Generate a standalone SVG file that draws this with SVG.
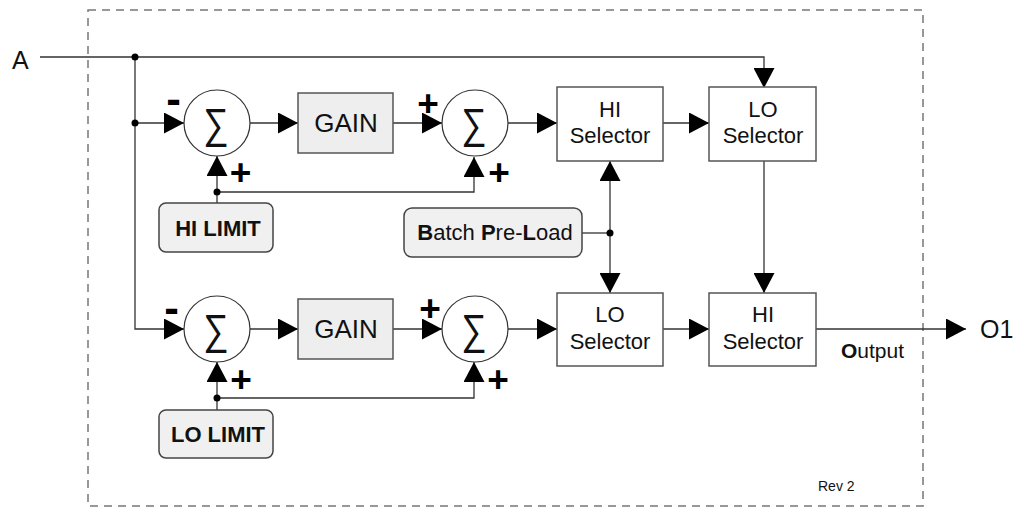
<svg xmlns="http://www.w3.org/2000/svg" width="1014" height="507" viewBox="0 0 1014 507">
<defs>
<marker id="ah" viewBox="0 0 20 21" refX="20" refY="10.5" markerWidth="20" markerHeight="21" markerUnits="userSpaceOnUse" orient="auto"><path d="M0,0 L20,10.5 L0,21 z" fill="#000"/></marker>
</defs>
<style>
.t{font-family:"Liberation Sans",Arial,sans-serif;fill:#111}
.m{text-anchor:middle}
.b{font-weight:bold}
.box{fill:#fff;stroke:#555;stroke-width:1.5}
.gbox{fill:#eeeeee;stroke:#555;stroke-width:1.5}
.lim{fill:#f0f0f0;stroke:#444;stroke-width:1.5}
.sum{fill:#fff;stroke:#333;stroke-width:1.2}
.c{fill:none;stroke:#333;stroke-width:1.3}
.a{marker-end:url(#ah)}
.dot{fill:#000}
.sg{font-family:"Liberation Sans",Arial,sans-serif;font-size:42px;text-anchor:middle;fill:#111}
.pm{font-family:"Liberation Sans",Arial,sans-serif;font-weight:bold;text-anchor:middle;fill:#000}
</style>
<rect x="88" y="10" width="835" height="496" fill="none" stroke="#777" stroke-width="1.5" stroke-dasharray="8 6"/>

<g id="connectors">
<path class="c a" d="M40,57 H764 V88"/>
<path class="c a" d="M135,57 V329 H184"/>
<path class="c a" d="M135,123 H184"/>
<path class="c a" d="M250,123 H298"/>
<path class="c a" d="M393,123 H442"/>
<path class="c a" d="M508,123 H557"/>
<path class="c a" d="M663,123 H709"/>
<path class="c a" d="M217,203 V156"/>
<path class="c a" d="M217,192 H474 V157"/>
<path class="c" d="M582,233 H610"/>
<path class="c a" d="M610,233 V161"/>
<path class="c a" d="M610,233 V293"/>
<path class="c a" d="M764,161 V293"/>
<path class="c a" d="M250,329 H298"/>
<path class="c a" d="M393,329 H442"/>
<path class="c a" d="M508,329 H557"/>
<path class="c a" d="M663,329 H709"/>
<path class="c a" d="M816,329 H966"/>
<path class="c a" d="M217,410 V362"/>
<path class="c a" d="M217,398 H474 V362"/>
<circle class="dot" cx="135" cy="57" r="3.5"/>
<circle class="dot" cx="135" cy="123" r="3.5"/>
<circle class="dot" cx="217" cy="192" r="3.5"/>
<circle class="dot" cx="610" cy="233" r="3.5"/>
<circle class="dot" cx="217" cy="398" r="3.5"/>
</g>

<g id="inA"><text class="t" x="12" y="69" font-size="25">A</text></g>
<g id="sum1"><circle class="sum" cx="217" cy="123" r="33"/><text class="sg" transform="translate(216,138) scale(0.85,1)">∑</text>
<text class="pm" x="173.5" y="113.5" font-size="44">-</text><text class="pm" x="240.5" y="185" font-size="37">+</text></g>
<g id="gain1"><rect class="gbox" x="298" y="93" width="95" height="60"/><text class="t m" x="346" y="132" font-size="26">GAIN</text></g>
<g id="sum2"><circle class="sum" cx="475" cy="123" r="33"/><text class="sg" transform="translate(474,138) scale(0.85,1)">∑</text>
<text class="pm" x="428" y="116" font-size="37">+</text><text class="pm" x="499" y="185" font-size="37">+</text></g>
<g id="hisel1"><rect class="box" x="557" y="87" width="106" height="74"/><text class="t m" x="610" y="117" font-size="22">HI</text><text class="t m" x="610" y="143" font-size="22">Selector</text></g>
<g id="losel1"><rect class="box" x="709" y="87" width="107" height="74"/><text class="t m" x="763" y="117" font-size="22">LO</text><text class="t m" x="763" y="143" font-size="22">Selector</text></g>
<g id="hilimit"><rect class="lim" x="159" y="203" width="114" height="49" rx="7"/><text class="t m b" x="218" y="236" font-size="22">HI LIMIT</text></g>
<g id="batch"><rect class="lim" x="404" y="208" width="178" height="49" rx="8"/><text class="t m" x="495" y="240" font-size="22"><tspan class="b">B</tspan>atch <tspan class="b">P</tspan>re-<tspan class="b">L</tspan>oad</text></g>

<g id="sum3"><circle class="sum" cx="217" cy="329" r="33"/><text class="sg" transform="translate(216,344) scale(0.85,1)">∑</text>
<text class="pm" x="171.5" y="323" font-size="44">-</text><text class="pm" x="241" y="391.5" font-size="37">+</text></g>
<g id="gain2"><rect class="gbox" x="298" y="299" width="95" height="60"/><text class="t m" x="346" y="338" font-size="26">GAIN</text></g>
<g id="sum4"><circle class="sum" cx="475" cy="329" r="33"/><text class="sg" transform="translate(474,344) scale(0.85,1)">∑</text>
<text class="pm" x="430" y="320.5" font-size="37">+</text><text class="pm" x="498" y="391.5" font-size="37">+</text></g>
<g id="losel2"><rect class="box" x="557" y="293" width="106" height="73"/><text class="t m" x="610" y="322" font-size="22">LO</text><text class="t m" x="610" y="349" font-size="22">Selector</text></g>
<g id="hisel2"><rect class="box" x="709" y="293" width="107" height="73"/><text class="t m" x="763" y="322" font-size="22">HI</text><text class="t m" x="763" y="349" font-size="22">Selector</text></g>
<g id="lolimit"><rect class="lim" x="159" y="410" width="114" height="48" rx="7"/><text class="t m b" x="218" y="442" font-size="22">LO LIMIT</text></g>

<g id="out"><text class="t" x="980" y="338" font-size="25">O1</text><text class="t" x="841" y="358" font-size="21"><tspan class="b">O</tspan>utput</text></g>
<g id="rev"><text class="t" x="818" y="491" font-size="14">Rev 2</text></g>
</svg>
